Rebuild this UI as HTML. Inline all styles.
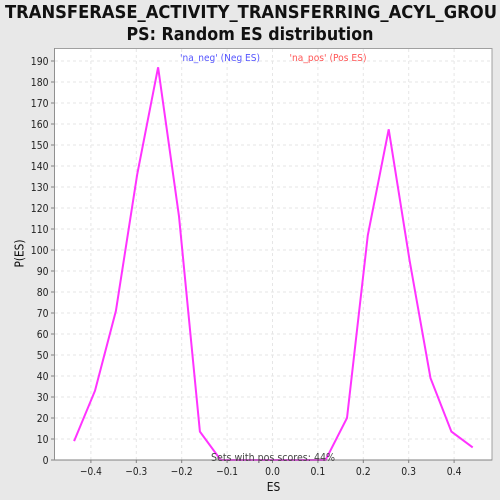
<!DOCTYPE html>
<html>
<head>
<meta charset="utf-8">
<style>
html,body{margin:0;padding:0;background:#e8e8e8;width:500px;height:500px;overflow:hidden}
svg{display:block}
text{font-family:"DejaVu Sans","Liberation Sans",sans-serif}
</style>
</head>
<body>
<svg id="chart" width="500" height="500" viewBox="0 0 500 500">
<rect x="0" y="0" width="500" height="500" fill="#e8e8e8"/>
<text x="251" y="18" text-anchor="middle" font-size="18" font-weight="bold" fill="#111" textLength="492" lengthAdjust="spacingAndGlyphs">TRANSFERASE_ACTIVITY_TRANSFERRING_ACYL_GROU</text>
<text x="250" y="40" text-anchor="middle" font-size="18" font-weight="bold" fill="#111" textLength="247" lengthAdjust="spacingAndGlyphs">PS: Random ES distribution</text>
<rect x="54.5" y="48.5" width="437.5" height="411.5" fill="#fff" stroke="#a0a0a0" stroke-width="1"/>
<g id="grid"></g>
<g id="ticks"></g>
<text x="220" y="61" text-anchor="middle" font-size="10" fill="#5555ff" textLength="80" lengthAdjust="spacingAndGlyphs">'na_neg' (Neg ES)</text>
<text x="328" y="61" text-anchor="middle" font-size="10" fill="#ff5555" textLength="77" lengthAdjust="spacingAndGlyphs">'na_pos' (Pos ES)</text>
<polyline id="series" fill="none" stroke="#ff33ff" stroke-width="2" stroke-linejoin="miter"></polyline>
<line x1="54.5" y1="460" x2="492" y2="460" stroke="#808080" stroke-width="1"/>
<line x1="54.5" y1="48" x2="54.5" y2="460" stroke="#909090" stroke-width="1"/>
<text x="273" y="461" text-anchor="middle" font-size="10.5" fill="#444" textLength="124" lengthAdjust="spacingAndGlyphs">Sets with pos scores: 44%</text>
<text x="273.5" y="491" text-anchor="middle" font-size="12" fill="#111" textLength="13.5" lengthAdjust="spacingAndGlyphs">ES</text>
<text transform="translate(23.5,253.5) rotate(-90)" text-anchor="middle" font-size="12" fill="#111" textLength="28" lengthAdjust="spacingAndGlyphs">P(ES)</text>
</svg>
<script>
var esValues = [-0.437,-0.391,-0.345,-0.298,-0.252,-0.206,-0.160,-0.114,-0.067,-0.021,0.025,0.071,0.117,0.164,0.210,0.256,0.302,0.348,0.394,0.441];
var probabilities = [9,33,71,136,187,116,13.5,0,0,0,0,0,0,20,107,157.5,95,39,13.5,6];
var xTickValues = [-0.4,-0.3,-0.2,-0.1,0.0,0.1,0.2,0.3,0.4];
var yTickValues = [0,10,20,30,40,50,60,70,80,90,100,110,120,130,140,150,160,170,180,190];

var NS = 'http://www.w3.org/2000/svg';
function xScale(v){ return 272.5 + v * 454; }
function yScale(v){ return 460 - v * 2.1; }
function xLabel(v){ return v < 0 ? '\u2212' + Math.abs(v).toFixed(1) : v.toFixed(1); }
function labelWidth(s){
  var w = 0;
  for (var i = 0; i < s.length; i++) {
    w += s[i] === '.' ? 3 : (s[i] === '\u2212' ? 7 : 5.9);
  }
  return w;
}
function make(tag, attrs, parent){
  var el = document.createElementNS(NS, tag);
  for (var k in attrs) el.setAttribute(k, attrs[k]);
  parent.appendChild(el);
  return el;
}
var grid = document.getElementById('grid');
var ticks = document.getElementById('ticks');
var dash = '3,3';
xTickValues.forEach(function(v){
  var x = xScale(v);
  var g = make('line', {x1:x, y1:49, x2:x, y2:459.5, stroke:'#e6e6e6', 'stroke-width':1, 'stroke-dasharray':dash}, grid);
  
  
  var t = make('line', {x1:x, y1:460, x2:x, y2:463, stroke:'#808080', 'stroke-width':1}, ticks);
  
  
  var s = xLabel(v);
  var l = make('text', {x:x, y:475, 'text-anchor':'middle', 'font-size':10.5, fill:'#222', textLength:labelWidth(s), lengthAdjust:'spacingAndGlyphs'}, ticks);
  l.textContent = s;
  
  
});
yTickValues.forEach(function(v){
  var y = yScale(v);
  if (v > 0) {
    var g = make('line', {x1:55, y1:y, x2:491.5, y2:y, stroke:'#e6e6e6', 'stroke-width':1, 'stroke-dasharray':dash}, grid);
    
    
  }
  var t = make('line', {x1:51, y1:y, x2:54.5, y2:y, stroke:'#808080', 'stroke-width':1}, ticks);
  
  
  var s = String(v);
  var l = make('text', {x:48.5, y:y + 4, 'text-anchor':'end', 'font-size':10.5, fill:'#222', textLength:labelWidth(s), lengthAdjust:'spacingAndGlyphs'}, ticks);
  l.textContent = s;
  
  
});
var pts = esValues.map(function(v, i){
  return xScale(v).toFixed(1) + ',' + yScale(probabilities[i]).toFixed(1);
});
document.getElementById('series').setAttribute('points', pts.join(' '));
</script>
</body>
</html>
